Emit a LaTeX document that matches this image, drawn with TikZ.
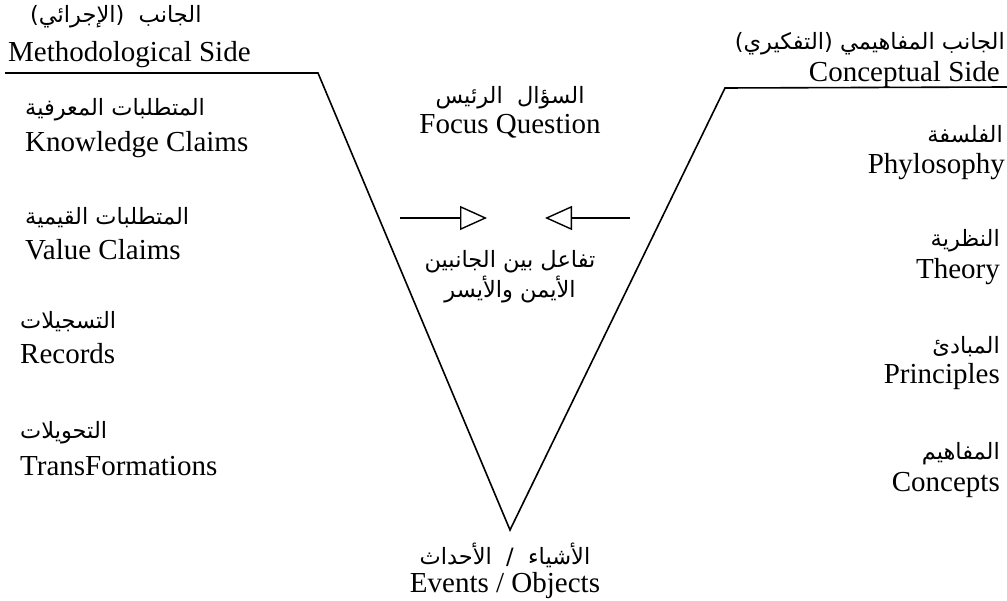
\documentclass[tikz,border=0pt]{standalone}
\usepackage{fontspec}
\setmainfont{Liberation Serif}
\newfontfamily\arabicfont[Script=Arabic]{DejaVu Sans}
\TeXXeTstate=1
\usetikzlibrary{arrows.meta, positioning}

\begin{document}
\begin{tikzpicture}[
  x=1pt, y=-1pt,
  en/.style={inner sep=0pt, font=\fontsize{29}{32}\selectfont},
  ar/.style={inner sep=0pt, font=\arabicfont\fontsize{22.5}{30}\selectfont},
  vline/.style={line width=1.6pt},
  push/.style={line width=1.4pt, -{Triangle[open, length=27pt, width=24pt]}},
]
  \useasboundingbox (0,0) rectangle (1007,601);

  % the V
  \coordinate (l-end) at (5,73);
  \coordinate (l-top) at (318,73);
  \coordinate (v-bot) at (510,530);
  \coordinate (r-top) at (725,88);
  \coordinate (r-end) at (1007,87);
  \draw[vline] (l-end) -- (l-top) -- (v-bot) -- (r-top) -- (r-end);

  % methodological side
  \node[ar, anchor=west] (meth-ar) at (30,17) {\beginR الجانب \ (الإجرائي)\endR};
  \node[en, anchor=west] (meth) at (8,55) {Methodological Side};
  \node[ar, anchor=west] (know-ar) at (25,110) {\beginR المتطلبات المعرفية\endR};
  \node[en, anchor=west] (know) at (25,145) {Knowledge Claims};
  \node[ar, anchor=west] (value-ar) at (25,218) {\beginR المتطلبات القيمية\endR};
  \node[en, anchor=west] (value) at (25,250) {Value Claims};
  \node[ar, anchor=west] (rec-ar) at (20,322) {\beginR التسجيلات\endR};
  \node[en, anchor=west] (rec) at (20,354) {Records};
  \node[ar, anchor=west] (trans-ar) at (20,433) {\beginR التحويلات\endR};
  \node[en, anchor=west] (trans) at (20,466) {TransFormations};

  % conceptual side
  \node[ar, anchor=east] (side-ar) at (1005,44) {\beginR الجانب المفاهيمي (التفكيري)\endR};
  \node[en, anchor=east] (side) at (1000,75) {Conceptual Side};
  \node[ar, anchor=east] (phil-ar) at (1003,134) {\beginR الفلسفة\endR};
  \node[en, anchor=east] (phil) at (1005,167) {Phylosophy};
  \node[ar, anchor=east] (theory-ar) at (1000,241) {\beginR النظرية\endR};
  \node[en, anchor=east] (theory) at (1000,272) {Theory};
  \node[ar, anchor=east] (princ-ar) at (1000,347) {\beginR المبادئ\endR};
  \node[en, anchor=east] (princ) at (1000,377) {Principles};
  \node[ar, anchor=east] (conc-ar) at (1000,454) {\beginR المفاهيم\endR};
  \node[en, anchor=east] (conc) at (1000,485) {Concepts};

  % middle
  \node[ar] (focus-ar) at (510,98) {\beginR السؤال \ الرئيس\endR};
  \node[en] (focus) at (510,126) {Focus Question};
  \node[ar, align=center] (inter-ar) at (510,277)
    {\beginR تفاعل بين الجانبين\endR\\\beginR الأيمن والأيسر\endR};
  \node[ar] (events-ar) at (505,555) {\beginR الأشياء \ / \ الأحداث\endR};
  \node[en] (events) at (505,586) {Events / Objects};

  % interaction arrows
  \coordinate (l-tail) at (400,218);
  \coordinate (l-tip) at (487,218);
  \coordinate (r-tail) at (630,218);
  \coordinate (r-tip) at (545,218);
  \draw[push] (l-tail) -- (l-tip);
  \draw[push] (r-tail) -- (r-tip);
\end{tikzpicture}
\end{document}
